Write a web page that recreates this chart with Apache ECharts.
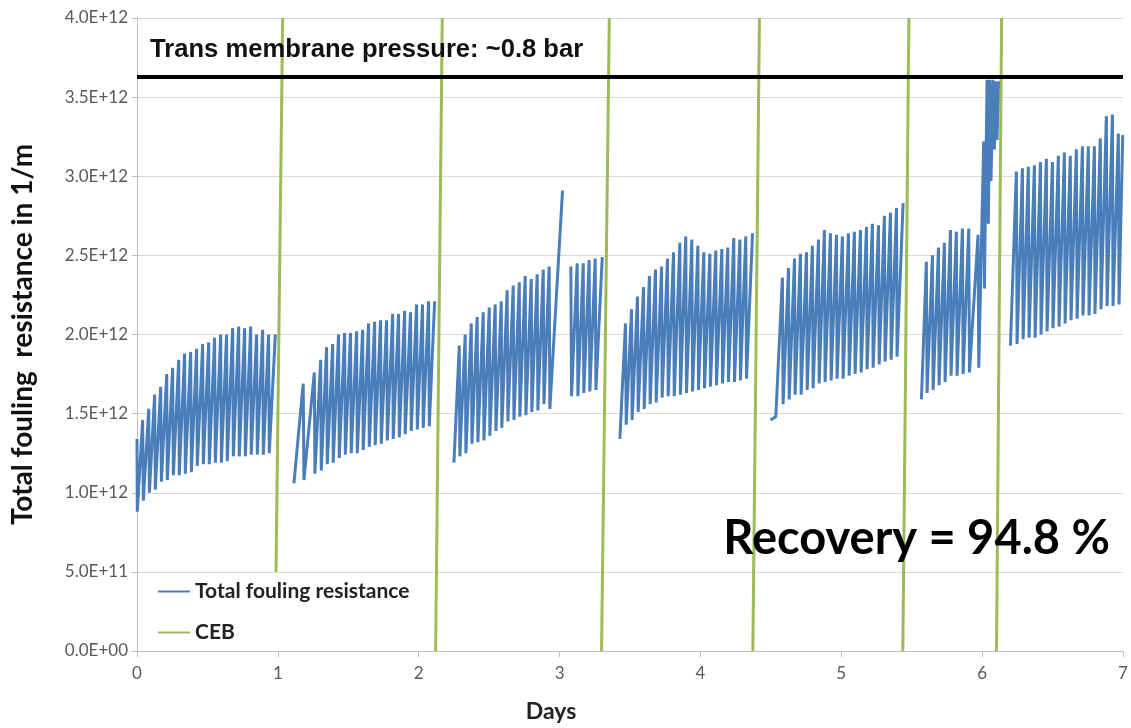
<!DOCTYPE html>
<html>
<head>
<meta charset="utf-8">
<script src="https://cdn.jsdelivr.net/npm/echarts@6/dist/echarts.min.js"></script>
<style>
  html, body { margin: 0; padding: 0; background: #ffffff; }
  #chart { width: 1131px; height: 728px; }
</style>
</head>
<body>
<div id="chart"></div>
<script>
// Values: x in days, y in units of 1E+12 1/m
const seg1 = [
  [0.000,1.34],[0.002,0.88],[0.040,1.46],[0.045,0.95],[0.083,1.53],[0.088,1.00],[0.125,1.62],[0.130,1.02],
  [0.168,1.67],[0.173,1.07],[0.211,1.75],[0.215,1.08],[0.253,1.79],[0.258,1.11],[0.296,1.84],[0.300,1.11],
  [0.338,1.88],[0.343,1.12],[0.381,1.89],[0.386,1.13],[0.423,1.91],[0.428,1.17],[0.466,1.94],[0.471,1.18],
  [0.509,1.95],[0.513,1.18],[0.551,1.98],[0.556,1.19],[0.594,2.00],[0.599,1.19],[0.636,2.00],[0.641,1.20],
  [0.679,2.04],[0.684,1.23],[0.722,2.05],[0.726,1.23],[0.764,2.04],[0.769,1.23],[0.807,2.05],[0.811,1.24],
  [0.849,2.00],[0.854,1.24],[0.892,2.03],[0.897,1.24],[0.934,2.00],[0.939,1.25],[0.982,2.00]
];
const seg2 = [
  [1.114,1.06],[1.180,1.69],[1.185,1.08],[1.259,1.76],[1.263,1.12],[1.304,1.84],[1.308,1.14],[1.346,1.92],
  [1.351,1.18],[1.389,1.94],[1.393,1.19],[1.431,2.00],[1.436,1.22],[1.474,2.01],[1.479,1.24],[1.516,2.01],
  [1.521,1.25],[1.559,2.02],[1.564,1.25],[1.602,2.03],[1.606,1.27],[1.644,2.07],[1.649,1.29],[1.687,2.08],
  [1.691,1.30],[1.729,2.09],[1.734,1.31],[1.772,2.09],[1.777,1.33],[1.815,2.13],[1.819,1.34],[1.857,2.13],
  [1.862,1.35],[1.900,2.15],[1.904,1.37],[1.942,2.14],[1.947,1.39],[1.985,2.19],[1.990,1.40],[2.027,2.19],
  [2.032,1.41],[2.070,2.21],[2.075,1.42],[2.113,2.21]
];
const seg3 = [
  [2.250,1.19],[2.288,1.93],[2.292,1.23],[2.330,2.00],[2.335,1.25],[2.373,2.07],[2.378,1.31],[2.415,2.11],
  [2.420,1.32],[2.458,2.14],[2.463,1.33],[2.501,2.17],[2.505,1.36],[2.543,2.19],[2.548,1.39],[2.586,2.21],
  [2.590,1.41],[2.628,2.28],[2.633,1.45],[2.671,2.31],[2.676,1.46],[2.714,2.33],[2.718,1.48],[2.756,2.37],
  [2.761,1.49],[2.799,2.35],[2.803,1.51],[2.841,2.38],[2.846,1.52],[2.884,2.41],[2.889,1.56],[2.926,2.43],
  [2.931,1.53],[3.021,2.91]
];
const seg3b = [
  [3.080,2.43],[3.085,1.61],[3.125,2.45],[3.130,1.61],[3.168,2.45],[3.172,1.63],[3.210,2.47],[3.215,1.64],
  [3.253,2.48],[3.258,1.65],[3.303,2.49]
];
const seg4 = [
  [3.428,1.34],[3.468,2.07],[3.473,1.43],[3.511,2.16],[3.515,1.46],[3.553,2.24],[3.558,1.51],[3.596,2.30],
  [3.601,1.53],[3.638,2.37],[3.643,1.56],[3.681,2.41],[3.686,1.57],[3.724,2.43],[3.728,1.60],[3.766,2.48],
  [3.771,1.61],[3.809,2.52],[3.814,1.61],[3.854,2.58],[3.858,1.62],[3.896,2.62],[3.901,1.63],[3.939,2.60],
  [3.944,1.64],[3.982,2.56],[3.986,1.65],[4.024,2.52],[4.029,1.66],[4.067,2.51],[4.071,1.67],[4.109,2.53],
  [4.114,1.68],[4.152,2.54],[4.157,1.69],[4.194,2.55],[4.199,1.70],[4.237,2.61],[4.242,1.70],[4.280,2.60],
  [4.284,1.71],[4.322,2.62],[4.327,1.72],[4.370,2.64]
];
const seg5 = [
  [4.497,1.46],[4.535,1.48],[4.582,2.36],[4.587,1.56],[4.625,2.42],[4.630,1.59],[4.668,2.48],[4.672,1.62],
  [4.710,2.51],[4.715,1.62],[4.753,2.52],[4.758,1.65],[4.795,2.56],[4.800,1.66],[4.838,2.60],[4.843,1.69],
  [4.880,2.66],[4.885,1.70],[4.923,2.64],[4.928,1.71],[4.966,2.63],[4.970,1.72],[5.008,2.62],[5.013,1.72],
  [5.051,2.64],[5.056,1.74],[5.093,2.65],[5.098,1.75],[5.136,2.66],[5.141,1.76],[5.179,2.68],[5.183,1.78],
  [5.221,2.70],[5.226,1.79],[5.264,2.69],[5.269,1.81],[5.306,2.75],[5.311,1.83],[5.349,2.77],[5.354,1.84],
  [5.392,2.80],[5.396,1.86],[5.439,2.83]
];
const seg6 = [
  [5.569,1.59],[5.604,2.46],[5.609,1.63],[5.647,2.50],[5.652,1.65],[5.690,2.55],[5.694,1.68],[5.732,2.58],
  [5.737,1.70],[5.775,2.66],[5.779,1.74],[5.817,2.65],[5.822,1.74],[5.860,2.67],[5.865,1.75],[5.905,2.67],
  [5.910,1.76],[5.971,2.63],[5.976,1.79],[6.011,3.22],[6.016,2.29],[6.035,3.61],[6.044,2.70],[6.054,3.61],
  [6.063,2.97],[6.077,3.61],[6.087,3.17],[6.096,3.60],[6.106,3.23],[6.116,3.60]
];
const seg7 = [
  [6.201,1.93],[6.243,3.03],[6.248,1.94],[6.286,3.05],[6.291,1.97],[6.328,3.06],[6.333,1.98],[6.371,3.07],
  [6.376,1.98],[6.414,3.09],[6.418,2.00],[6.456,3.11],[6.461,2.02],[6.499,3.09],[6.503,2.04],[6.541,3.13],
  [6.546,2.05],[6.584,3.15],[6.589,2.07],[6.626,3.13],[6.631,2.09],[6.669,3.17],[6.674,2.10],[6.712,3.19],
  [6.716,2.12],[6.754,3.19],[6.759,2.12],[6.797,3.19],[6.801,2.13],[6.839,3.24],[6.844,2.16],[6.882,3.38],
  [6.887,2.18],[6.925,3.39],[6.929,2.18],[6.967,3.27],[6.972,2.19],[6.998,3.26]
];
// CEB events: each is [x at bottom, y at bottom, x at top, y at top]
const cebEvents = [
  [0.987, 0.5, 1.034, 4.0],
  [2.120, 0.0, 2.167, 4.0],
  [3.298, 0.0, 3.353, 4.0],
  [4.372, 0.0, 4.419, 4.0],
  [5.437, 0.0, 5.480, 4.0],
  [6.102, 0.0, 6.138, 4.0]
];
const tmpLevel = 3.635;
const xTicks = [0, 1, 2, 3, 4, 5, 6, 7];
const yMin = 0, yMax = 4, yStep = 0.5;
const UNIT = 1e12;

const GAP = ['-', '-'];
const foulingData = [];
[seg1, seg2, seg3, seg3b, seg4, seg5, seg6, seg7].forEach((s, i) => {
  if (i > 0) foulingData.push(GAP);
  s.forEach(p => foulingData.push(p));
});
const cebData = [];
cebEvents.forEach((e, i) => {
  if (i > 0) cebData.push(GAP);
  cebData.push([e[0], e[1]]);
  cebData.push([e[2], e[3]]);
});

function sci(v) {
  const n = v * UNIT;
  if (Math.abs(n) < 1) return '0.0E+00';
  const e = Math.floor(Math.log10(n) + 1e-9);
  const m = n / Math.pow(10, e);
  return m.toFixed(1) + 'E+' + String(e).padStart(2, '0');
}

const CAL = 'Lato, "Noto Sans", sans-serif';
const chart = echarts.init(document.getElementById('chart'), null, { renderer: 'canvas' });
chart.setOption({
  backgroundColor: '#ffffff',
  animation: false,
  grid: { left: 137, right: 8, top: 18, bottom: 77, containLabel: false },
  legend: {
    orient: 'vertical',
    left: 153,
    top: 576,
    padding: 5,
    icon: 'rect',
    itemWidth: 32,
    itemHeight: 2,
    itemGap: 20,
    textStyle: { fontFamily: CAL, fontSize: 21, fontWeight: 'bold', color: '#222222' },
    data: ['Total fouling resistance', 'CEB']
  },
  xAxis: {
    type: 'value',
    min: xTicks[0],
    max: xTicks[xTicks.length - 1],
    interval: 1,
    name: 'Days',
    nameLocation: 'middle',
    nameGap: 49,
    nameTextStyle: { fontFamily: CAL, fontSize: 23, fontWeight: 'bold', color: '#222222', padding: [0, 158, 0, 0] },
    axisLine: { show: true, lineStyle: { color: '#bfbfbf', width: 1 } },
    axisTick: { show: true, length: 6, lineStyle: { color: '#bfbfbf' } },
    axisLabel: { fontFamily: CAL, fontSize: 17, color: '#595959', margin: 14 },
    splitLine: { show: false }
  },
  yAxis: {
    type: 'value',
    min: yMin,
    max: yMax,
    interval: yStep,
    name: 'Total fouling  resistance in 1/m',
    nameLocation: 'middle',
    nameGap: 100,
    nameTextStyle: { fontFamily: CAL, fontSize: 28, fontWeight: 'bold', color: '#111111' },
    axisLine: { show: true, lineStyle: { color: '#bfbfbf', width: 1 } },
    axisTick: { show: true, length: 5, lineStyle: { color: '#bfbfbf' } },
    axisLabel: { fontFamily: CAL, fontSize: 17, color: '#595959', margin: 9, formatter: sci },
    splitLine: { show: true, lineStyle: { color: '#d9d9d9', width: 1 } }
  },
  series: [
    {
      name: 'Total fouling resistance',
      type: 'line',
      data: foulingData,
      symbol: 'none',
      connectNulls: false,
      lineStyle: { color: '#4a7ebb', width: 3 },
      itemStyle: { color: '#4a7ebb' },
      z: 3
    },
    {
      name: 'CEB',
      type: 'line',
      data: cebData,
      symbol: 'none',
      connectNulls: false,
      clip: true,
      lineStyle: { color: '#9bbb59', width: 3 },
      itemStyle: { color: '#9bbb59' },
      z: 2,
      markLine: {
        silent: true,
        symbol: ['none', 'none'],
        label: { show: false },
        lineStyle: { color: '#000000', width: 4, type: 'solid' },
        data: [{ yAxis: tmpLevel }],
        z: 4
      }
    }
  ],
  graphic: [
    {
      type: 'text',
      left: 150,
      top: 37,
      style: {
        text: 'Trans membrane pressure: ~0.8 bar',
        font: 'bold 25.6px "Liberation Sans", Arial, sans-serif',
        fill: '#111111'
      },
      z: 10
    },
    {
      type: 'text',
      right: 21,
      top: 515,
      style: {
        text: 'Recovery = 94.8 %',
        font: 'bold 47px Lato, "Noto Sans", sans-serif',
        fill: '#000000'
      },
      z: 10
    }
  ]
});
</script>
</body>
</html>
